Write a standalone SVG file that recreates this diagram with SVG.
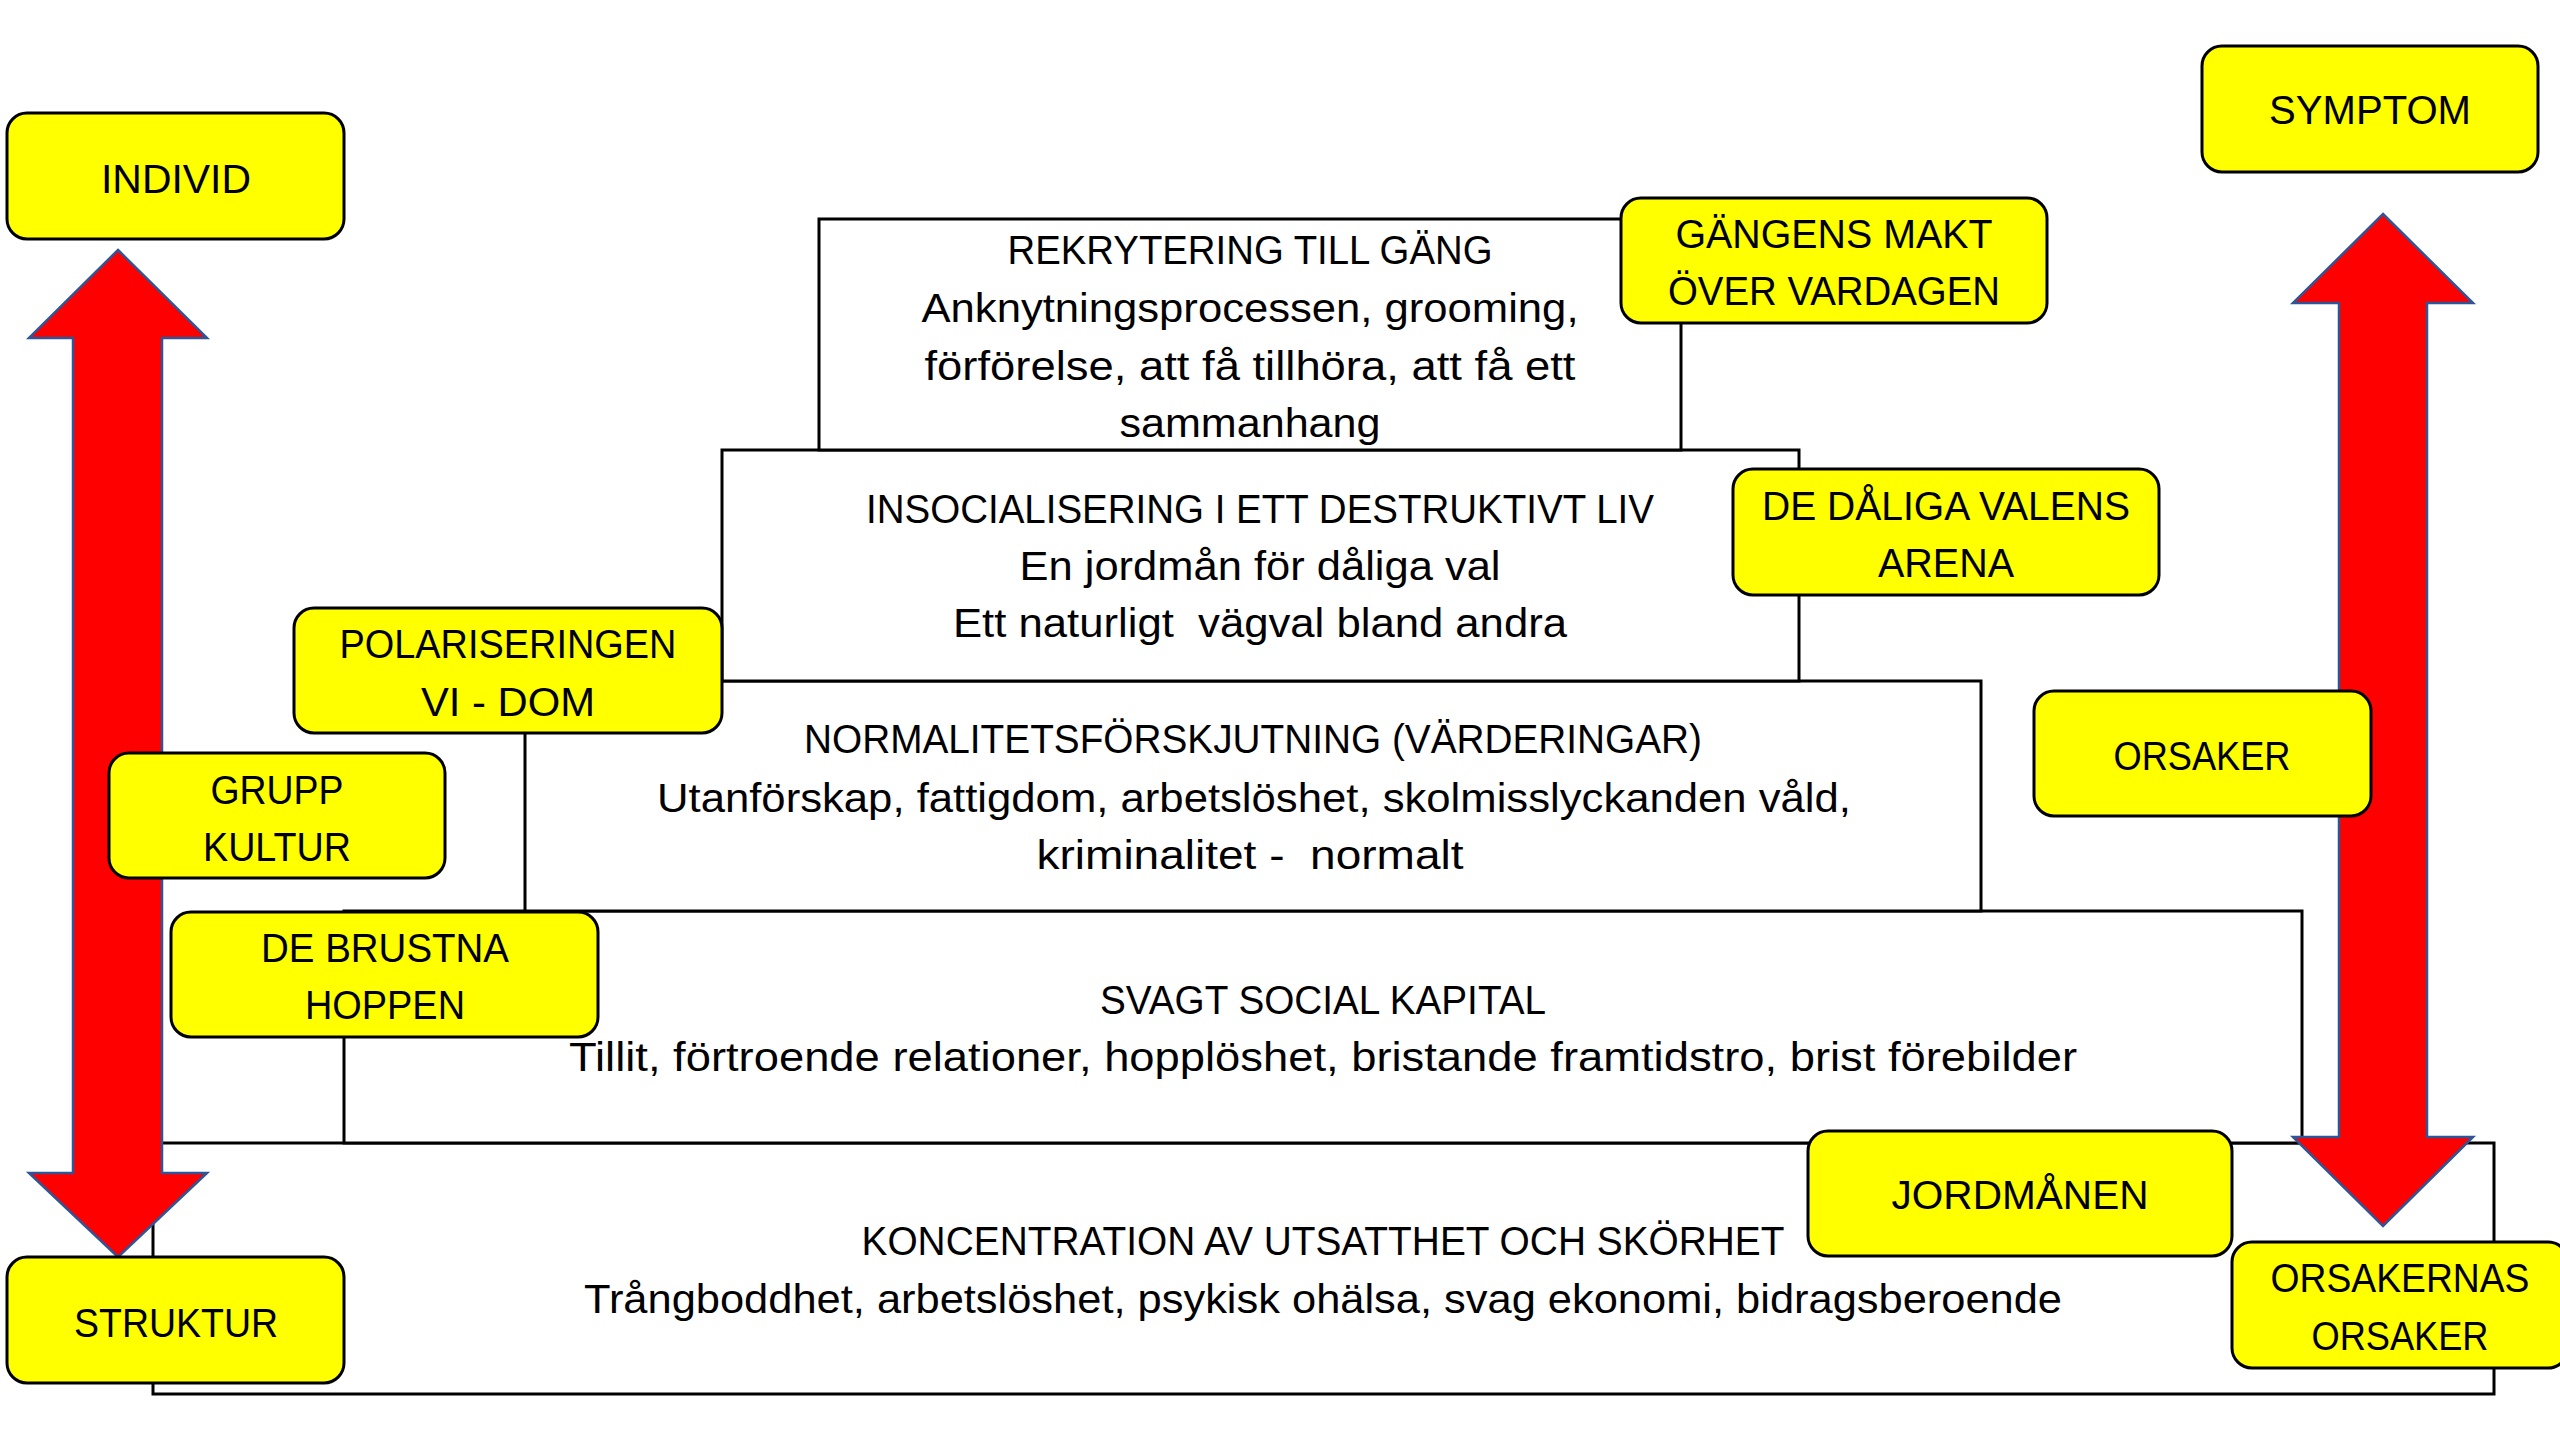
<svg xmlns="http://www.w3.org/2000/svg" width="2560" height="1440" viewBox="0 0 2560 1440">
<style>
.lvl{fill:#FFFFFF;stroke:#000000;stroke-width:3}
.box{fill:#FFFF00;stroke:#000000;stroke-width:3}
.arr{fill:#FF0000;stroke:#2F5597;stroke-width:2.5;stroke-linejoin:miter}
text{font-family:"Liberation Sans",Arial,sans-serif;font-size:40px;fill:#000000;text-anchor:middle}
</style>
<rect width="2560" height="1440" fill="#FFFFFF"/>
<g id="levels">
  <g id="level-koncentration">
    <rect class="lvl" x="153" y="1143" width="2341" height="251"/>
    <text x="1323" y="1255" textLength="923" lengthAdjust="spacingAndGlyphs">KONCENTRATION AV UTSATTHET OCH SKÖRHET</text>
    <text x="1323" y="1313" textLength="1478" lengthAdjust="spacingAndGlyphs">Trångboddhet, arbetslöshet, psykisk ohälsa, svag ekonomi, bidragsberoende</text>
  </g>
  <g id="level-svagt">
    <rect class="lvl" x="344" y="911" width="1958" height="232"/>
    <text x="1323" y="1014" textLength="446" lengthAdjust="spacingAndGlyphs">SVAGT SOCIAL KAPITAL</text>
    <text x="1323" y="1071" textLength="1508" lengthAdjust="spacingAndGlyphs">Tillit, förtroende relationer, hopplöshet, bristande framtidstro, brist förebilder</text>
  </g>
  <g id="level-normalitet">
    <rect class="lvl" x="525" y="681" width="1456" height="230"/>
    <text x="1253" y="753" textLength="898" lengthAdjust="spacingAndGlyphs">NORMALITETSFÖRSKJUTNING (VÄRDERINGAR)</text>
    <text x="1254" y="812" textLength="1194" lengthAdjust="spacingAndGlyphs">Utanförskap, fattigdom, arbetslöshet, skolmisslyckanden våld,</text>
    <text x="1250" y="869" textLength="427" lengthAdjust="spacingAndGlyphs" xml:space="preserve">kriminalitet -  normalt</text>
  </g>
  <g id="level-insocialisering">
    <rect class="lvl" x="722" y="450" width="1077" height="231"/>
    <text x="1260" y="523" textLength="788" lengthAdjust="spacingAndGlyphs">INSOCIALISERING I ETT DESTRUKTIVT LIV</text>
    <text x="1260" y="580" textLength="481" lengthAdjust="spacingAndGlyphs">En jordmån för dåliga val</text>
    <text x="1260" y="637" textLength="614" lengthAdjust="spacingAndGlyphs" xml:space="preserve">Ett naturligt  vägval bland andra</text>
  </g>
  <g id="level-rekrytering">
    <rect class="lvl" x="819" y="219" width="862" height="231"/>
    <text x="1250" y="264" textLength="485" lengthAdjust="spacingAndGlyphs">REKRYTERING TILL GÄNG</text>
    <text x="1250" y="322" textLength="657" lengthAdjust="spacingAndGlyphs">Anknytningsprocessen, grooming,</text>
    <text x="1250" y="380" textLength="651" lengthAdjust="spacingAndGlyphs">förförelse, att få tillhöra, att få ett</text>
    <text x="1250" y="437" textLength="261" lengthAdjust="spacingAndGlyphs">sammanhang</text>
  </g>
</g>
<g id="connectors">
  <polygon id="arrow-left" class="arr" points="118,250 207,338 162,338 162,1173 207,1173 118,1257 29,1173 73,1173 73,338 29,338"/>
  <polygon id="arrow-right" class="arr" points="2383,214 2473,303 2427,303 2427,1137 2473,1137 2383,1226 2293,1137 2339,1137 2339,303 2293,303"/>
</g>
<g id="labels">
  <g id="individ">
    <rect class="box" x="7" y="113" width="337" height="126" rx="20"/>
    <text x="176" y="193" textLength="150" lengthAdjust="spacingAndGlyphs">INDIVID</text>
  </g>
  <g id="struktur">
    <rect class="box" x="7" y="1257" width="337" height="126" rx="20"/>
    <text x="176" y="1337" textLength="204" lengthAdjust="spacingAndGlyphs">STRUKTUR</text>
  </g>
  <g id="symptom">
    <rect class="box" x="2202" y="46" width="336" height="126" rx="20"/>
    <text x="2370" y="124" textLength="202" lengthAdjust="spacingAndGlyphs">SYMPTOM</text>
  </g>
  <g id="orsakernas-orsaker">
    <rect class="box" x="2232" y="1242" width="336" height="126" rx="20"/>
    <text x="2400" y="1292" textLength="259" lengthAdjust="spacingAndGlyphs">ORSAKERNAS</text>
    <text x="2400" y="1350" textLength="177" lengthAdjust="spacingAndGlyphs">ORSAKER</text>
  </g>
  <g id="jordmanen">
    <rect class="box" x="1808" y="1131" width="424" height="125" rx="20"/>
    <text x="2020" y="1209" textLength="257" lengthAdjust="spacingAndGlyphs">JORDMÅNEN</text>
  </g>
  <g id="gangens-makt">
    <rect class="box" x="1621" y="198" width="426" height="125" rx="20"/>
    <text x="1834" y="248" textLength="317" lengthAdjust="spacingAndGlyphs">GÄNGENS MAKT</text>
    <text x="1834" y="305" textLength="332" lengthAdjust="spacingAndGlyphs">ÖVER VARDAGEN</text>
  </g>
  <g id="daliga-valens">
    <rect class="box" x="1733" y="469" width="426" height="126" rx="20"/>
    <text x="1946" y="520" textLength="368" lengthAdjust="spacingAndGlyphs">DE DÅLIGA VALENS</text>
    <text x="1946" y="577" textLength="136" lengthAdjust="spacingAndGlyphs">ARENA</text>
  </g>
  <g id="orsaker">
    <rect class="box" x="2034" y="691" width="337" height="125" rx="20"/>
    <text x="2202" y="770" textLength="177" lengthAdjust="spacingAndGlyphs">ORSAKER</text>
  </g>
  <g id="polariseringen">
    <rect class="box" x="294" y="608" width="428" height="125" rx="20"/>
    <text x="508" y="658" textLength="337" lengthAdjust="spacingAndGlyphs">POLARISERINGEN</text>
    <text x="508" y="716" textLength="174" lengthAdjust="spacingAndGlyphs">VI - DOM</text>
  </g>
  <g id="grupp-kultur">
    <rect class="box" x="109" y="753" width="336" height="125" rx="20"/>
    <text x="277" y="804" textLength="133" lengthAdjust="spacingAndGlyphs">GRUPP</text>
    <text x="277" y="861" textLength="148" lengthAdjust="spacingAndGlyphs">KULTUR</text>
  </g>
  <g id="brustna-hoppen">
    <rect class="box" x="171" y="912" width="427" height="125" rx="20"/>
    <text x="385" y="962" textLength="248" lengthAdjust="spacingAndGlyphs">DE BRUSTNA</text>
    <text x="385" y="1019" textLength="160" lengthAdjust="spacingAndGlyphs">HOPPEN</text>
  </g>
</g>
</svg>
